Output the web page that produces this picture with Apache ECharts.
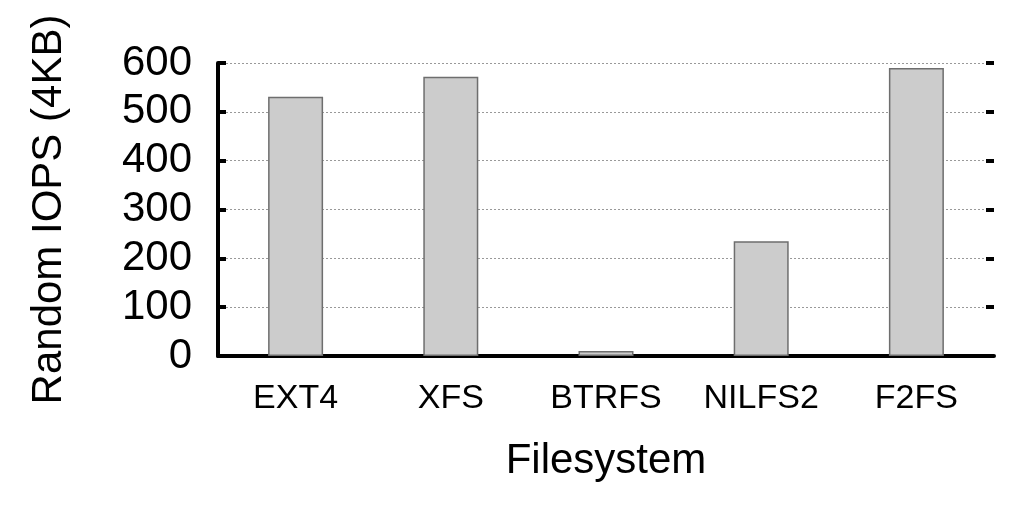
<!DOCTYPE html>
<html>
<head>
<meta charset="utf-8">
<script src="https://cdn.jsdelivr.net/npm/echarts@6/dist/echarts.min.js"></script>
<style>
html,body{margin:0;padding:0;background:#fff;}
#chart{width:1024px;height:506px;}
</style>
</head>
<body>
<div id="chart"></div>
<script>
const categories = ['EXT4', 'XFS', 'BTRFS', 'NILFS2', 'F2FS'];
const iops = [531, 572, 10, 235, 590];
const yTicks = [0, 100, 200, 300, 400, 500, 600];

const FONT = '"Liberation Sans", Arial, Helvetica, sans-serif';
const chart = echarts.init(document.getElementById('chart'), null, {renderer: 'canvas'});
const yMin = yTicks[0], yMax = yTicks[yTicks.length - 1], yStep = yTicks[1] - yTicks[0];

chart.setOption({
  animation: false,
  backgroundColor: '#ffffff',
  grid: {left: 218, right: 30, top: 63, bottom: 150, containLabel: false},
  xAxis: {
    type: 'category',
    data: categories,
    axisLine: {show: true, onZero: false, lineStyle: {color: '#000', width: 4}},
    axisTick: {show: false},
    axisLabel: {color: '#000', fontSize: 34, fontFamily: FONT, margin: 26},
    name: 'Filesystem',
    nameLocation: 'middle',
    nameGap: 84,
    nameTextStyle: {color: '#000', fontSize: 42, fontFamily: FONT},
    splitLine: {show: false}
  },
  yAxis: [{
    type: 'value',
    min: yMin, max: yMax, interval: yStep,
    axisLine: {show: true, lineStyle: {color: '#000', width: 4}},
    axisTick: {show: true, inside: true, length: 8, lineStyle: {color: '#000', width: 4}},
    axisLabel: {color: '#000', fontSize: 42, fontFamily: FONT, margin: 26},
    splitLine: {show: true, lineStyle: {color: '#999', width: 1, type: [2, 2]}},
    name: 'Random IOPS (4KB)',
    nameLocation: 'middle',
    nameGap: 148,
    nameTextStyle: {color: '#000', fontSize: 42, fontFamily: FONT}
  }, {
    type: 'value',
    position: 'right',
    min: yMin, max: yMax, interval: yStep,
    axisLine: {show: false},
    axisTick: {show: true, inside: true, length: 8, lineStyle: {color: '#000', width: 4}},
    axisLabel: {show: false},
    splitLine: {show: false}
  }],
  series: [{
    type: 'bar',
    data: iops,
    barWidth: 55,
    itemStyle: {color: '#cccccc', borderColor: '#6e6e6e', borderWidth: 1.5},
    silent: true
  }]
});
</script>
</body>
</html>
